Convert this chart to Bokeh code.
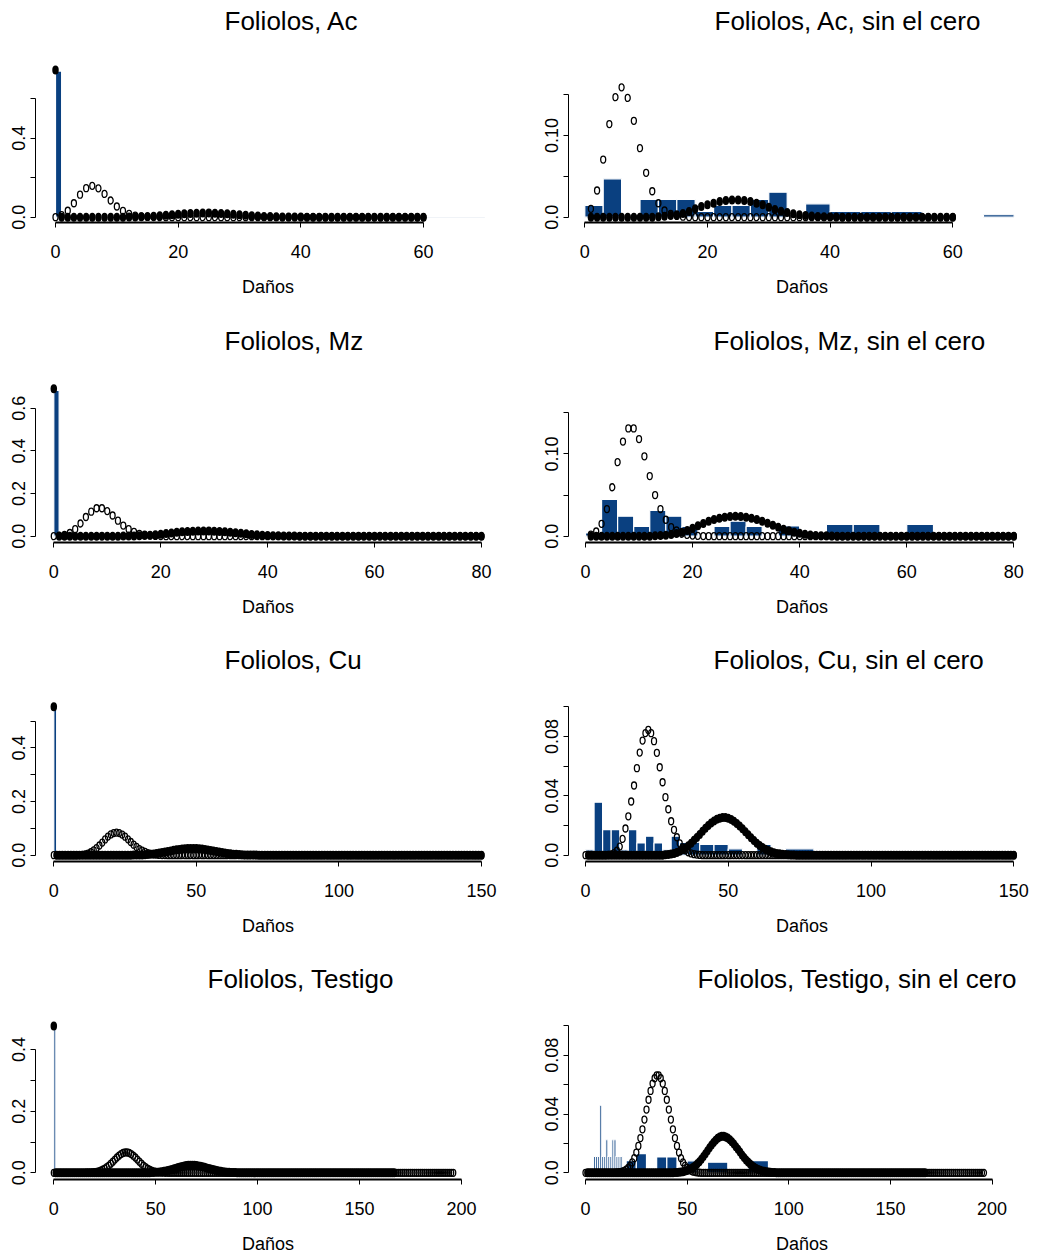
from bokeh.plotting import figure
from bokeh.layouts import gridplot
from bokeh.models import Range1d, FixedTicker
from bokeh.embed import file_html
from bokeh.resources import INLINE

FONT = "Liberation Sans"
BAR = "#0a4080"

# ---------------- data ----------------
# Ac
ac_p0 = 0.745
ac_open = [0.0, 0.0102, 0.0327, 0.0706, 0.114, 0.147, 0.159, 0.146, 0.118, 0.0845,
           0.0543, 0.0318, 0.0171, 0.0082, 0.0040, 0.0016, 0.0006, 0.0002] + [0.0] * 43   # x = 0..60
ac_filled = [0.0] * 11 + [0.0007, 0.0012, 0.002, 0.003, 0.0045, 0.007, 0.0103, 0.013, 0.0151,
                          0.0172, 0.0192, 0.0204, 0.0212, 0.0212, 0.0204, 0.0192, 0.0172, 0.0151,
                          0.0122, 0.0094, 0.0073, 0.0057, 0.0041, 0.003, 0.002, 0.0015, 0.001,
                          0.0006, 0.0004, 0.0002] + [0.0] * 19                                 # x = 1..60
ac_all_left = [0, 60]
ac_all_right = [1, 70]
ac_all_height = [0.74, 0.0008]
ac_nz_left = [0, 3, 9, 12, 15, 18, 21, 24, 27, 30, 36, 40, 45, 50, 65]
ac_nz_right = [3, 6, 12, 15, 18, 21, 24, 27, 30, 33, 40, 45, 50, 55, 70]
ac_nz_height = [0.0143, 0.047, 0.0217, 0.0217, 0.0217, 0.007, 0.0143, 0.0143, 0.0217, 0.0306,
                0.0164, 0.007, 0.007, 0.007, 0.003]

# Mz
mz_p0 = 0.691
mz_open = [0.0, 0.002, 0.0057, 0.015, 0.033, 0.0595, 0.090, 0.115, 0.131, 0.131, 0.118, 0.097,
           0.073, 0.050, 0.033, 0.020, 0.011, 0.0069, 0.003, 0.0015, 0.0007, 0.0003,
           0.0001] + [0.0] * 58                                                                 # x = 0..80
mz_filled = [0.0] * 12 + [0.0004, 0.0008, 0.0013, 0.0021, 0.0033, 0.0049, 0.0069, 0.0097, 0.0126,
                          0.0154, 0.0182, 0.0203, 0.0219, 0.0231, 0.0239, 0.0243, 0.0239, 0.0231,
                          0.0219, 0.0203, 0.0182, 0.0158, 0.0134, 0.011, 0.0085, 0.0065, 0.0049,
                          0.0035, 0.0024, 0.0016, 0.001, 0.0006, 0.0004, 0.0002] + [0.0] * 34  # x = 1..80
mz_all_left = [0]
mz_all_right = [1]
mz_all_height = [0.683]
mz_nz_left = [0, 3, 6, 9, 12, 15, 18, 24, 27, 30, 36, 45, 50, 60]
mz_nz_right = [3, 6, 9, 12, 15, 18, 21, 27, 30, 33, 40, 50, 55, 65]
mz_nz_height = [0.004, 0.0446, 0.0243, 0.0118, 0.0312, 0.0243, 0.0118, 0.0118, 0.0182, 0.0118,
                0.0125, 0.0142, 0.0142, 0.0142]

# Cu
cu_p0 = 0.553
cu_open = [0.0] * 8 + [0.0002, 0.0006, 0.0014, 0.003, 0.0058, 0.011, 0.018, 0.0262, 0.0362, 0.047,
                       0.0587, 0.0692, 0.0773, 0.0823, 0.0845, 0.0823, 0.0769, 0.069, 0.0593,
                       0.0492, 0.0391, 0.031, 0.0229, 0.0171, 0.0121, 0.0080, 0.0052, 0.0033,
                       0.002, 0.0012, 0.0007, 0.0004, 0.0002] + [0.0] * 110                    # x = 0..150
cu_filled = [0.0] * 27 + [0.0003, 0.0005, 0.0008, 0.0012, 0.0018, 0.0026, 0.0036, 0.0049, 0.0064,
                          0.0081, 0.0100, 0.0120, 0.0140, 0.0161, 0.0181, 0.0200, 0.0217, 0.0231,
                          0.0242, 0.0250, 0.0254, 0.0254, 0.0249, 0.0241, 0.0229, 0.0214, 0.0197,
                          0.0178, 0.0158, 0.0138, 0.0118, 0.0099, 0.0081, 0.0066, 0.0052, 0.0040,
                          0.0031, 0.0023, 0.0017, 0.0012, 0.0009, 0.0006, 0.0004, 0.0003, 0.0002,
                          0.0001] + [0.0] * 77                                                   # x = 1..150
cu_all_left = [0]
cu_all_right = [1]
cu_all_height = [0.551]
cu_nz_left = [0, 3, 6, 9, 12, 15, 18, 21, 24, 27, 30, 33, 36, 40, 45, 50, 60, 70]
cu_nz_right = [3, 6, 9, 12, 15, 18, 21, 24, 27, 30, 33, 36, 40, 45, 50, 55, 65, 80]
cu_nz_height = [0.0036, 0.0357, 0.0173, 0.0173, 0.0036, 0.0173, 0.0083, 0.0128, 0.0083, 0.0036,
                0.0128, 0.0087, 0.0088, 0.0072, 0.0072, 0.0043, 0.0072, 0.0043]

# Testigo
te_p0 = 0.476
te_open = [0.0] * 15 + [0.0001, 0.0003, 0.0005, 0.0008, 0.0014, 0.0022, 0.0033, 0.0049, 0.0071,
                        0.0100, 0.0138, 0.0183, 0.0236, 0.0296, 0.0362, 0.0430, 0.0497, 0.0557,
                        0.0607, 0.0643, 0.0662, 0.0662, 0.0643, 0.0607, 0.0557, 0.0497, 0.0430,
                        0.0362, 0.0296, 0.0236, 0.0183, 0.0138, 0.0100, 0.0071, 0.0049, 0.0033,
                        0.0022, 0.0014, 0.0008, 0.0005, 0.0003, 0.0001] + [0.0] * 140          # x = 0..196
te_filled = [0.0] * 42 + [0.0001, 0.0002, 0.0003, 0.0004, 0.0006, 0.0008, 0.0012, 0.0016, 0.0022,
                          0.0029, 0.0038, 0.0049, 0.0062, 0.0076, 0.0093, 0.0111, 0.0130, 0.0150,
                          0.0170, 0.0190, 0.0207, 0.0222, 0.0235, 0.0243, 0.0248, 0.0248, 0.0244,
                          0.0236, 0.0225, 0.0212, 0.0196, 0.0178, 0.0160, 0.0141, 0.0122, 0.0105,
                          0.0088, 0.0073, 0.0060, 0.0048, 0.0038, 0.0030, 0.0023, 0.0017, 0.0013,
                          0.0010, 0.0007, 0.0005, 0.0004, 0.0003, 0.0002, 0.0001] + [0.0] * 73  # x = 1..167
te_all_left = [0]
te_all_right = [1]
te_all_height = [0.475]
te_nz_left = [4, 5, 6, 7, 8, 9, 10, 11, 12, 13, 14, 15, 16, 17, 20, 25, 35, 40, 50, 60, 80]
te_nz_right = [5, 6, 7, 8, 9, 10, 11, 12, 13, 14, 15, 16, 17, 18, 25, 30, 40, 45, 55, 70, 90]
te_nz_height = [0.0112, 0.0112, 0.0112, 0.046, 0.0112, 0.0112, 0.0225, 0.0112, 0.0112, 0.0225,
                0.0225, 0.0112, 0.0112, 0.0112, 0.0083, 0.013, 0.0108, 0.0108, 0.0082, 0.0072,
                0.0083]

# ---------------- layout ----------------
ROW_H = [320, 319, 319, 298]
FRAME_TOP = 40
FRAME_BOTTOM = 222


def panel(title, title_left, row, col, x0, sx, y0, sy, xticks, ymaj, ymaj_lab, ymin, ytop,
          bl, br, bh, ox, oy, fx, fy):
    h = ROW_H[row]
    fl, fr = (35, 500) if col == 0 else (48, 515)
    p = figure(width=520, height=h, output_backend="svg", toolbar_location=None,
               title=title,
               x_range=Range1d((fl - x0) / sx, (fr - x0) / sx),
               y_range=Range1d((y0 - FRAME_BOTTOM) / sy, (y0 - FRAME_TOP) / sy),
               min_border_left=fl, min_border_right=520 - fr,
               min_border_top=FRAME_TOP, min_border_bottom=h - FRAME_BOTTOM)
    p.title.align = "left"
    p.title.offset = title_left - fl
    p.title.text_font = FONT
    p.title.text_font_size = "26px"
    p.title.text_font_style = "normal"
    p.title.text_color = "black"
    p.title.vertical_align = "middle"
    p.title.standoff = 8
    p.outline_line_color = None
    p.xgrid.visible = False
    p.ygrid.visible = False
    p.background_fill_color = "white"
    p.border_fill_color = "white"

    p.quad(left=bl, right=br, top=bh, bottom=0, fill_color=BAR, line_color="white", line_width=1.2)
    p.ellipse(x=ox, y=oy, width=5, height=7, width_units="screen", height_units="screen",
              fill_color=None, line_color="black", line_width=1.3)
    p.ellipse(x=fx, y=fy, width=6.5, height=9, width_units="screen", height_units="screen",
              fill_color="black", line_color=None)

    xa = p.xaxis[0]
    xa.ticker = FixedTicker(ticks=xticks)
    xa.bounds = (xticks[0], xticks[-1])
    xa.axis_line_width = 2
    xa.major_tick_out = 5
    xa.major_tick_in = 0
    xa.minor_tick_line_color = None
    xa.major_label_text_font = FONT
    xa.major_label_text_font_size = "18px"
    xa.major_label_text_color = "black"
    xa.major_label_standoff = 17
    xa.axis_label = "Daños"
    xa.axis_label_text_font = FONT
    xa.axis_label_text_font_size = "18px"
    xa.axis_label_text_font_style = "normal"
    xa.axis_label_text_color = "black"
    xa.axis_label_standoff = 16

    ya = p.yaxis[0]
    ya.ticker = FixedTicker(ticks=ymaj, minor_ticks=ymin)
    ya.bounds = (0, ytop)
    ya.major_label_overrides = {t: s for t, s in zip(ymaj, ymaj_lab)}
    ya.axis_line_width = 1
    ya.major_tick_out = 5
    ya.major_tick_in = 0
    ya.minor_tick_out = 5
    ya.minor_tick_in = 0
    ya.minor_tick_line_color = "black"
    ya.major_label_orientation = "vertical"
    ya.major_label_text_font = FONT
    ya.major_label_text_font_size = "18px"
    ya.major_label_text_color = "black"
    ya.major_label_standoff = 5
    return p


xs_ac_left = list(range(0, 61))
xs_ac_right = list(range(1, 61))
xs_mz_left = list(range(0, 81))
xs_mz_right = list(range(1, 81))
xs_cu_open = list(range(0, 151))
xs_cu_left = list(range(0, 151))
xs_cu_right = list(range(1, 151))
xs_te_open = list(range(0, 197))
xs_te_left = list(range(0, 168))
xs_te_right = list(range(1, 168))

p1 = panel("Foliolos, Ac", 224, 0, 0, 55, 6.133, 216.7, 197.5, [0, 20, 40, 60],
           [0, 0.4], ["0.0", "0.4"], [0.2, 0.6], 0.6,
           ac_all_left, ac_all_right, ac_all_height,
           xs_ac_left, ac_open, xs_ac_left, [ac_p0] + ac_filled)
p2 = panel("Foliolos, Ac, sin el cero", 194, 0, 1, 64.3, 6.133, 216.7, 816.7, [0, 20, 40, 60],
           [0, 0.1], ["0.0", "0.10"], [0.05, 0.15], 0.15,
           ac_nz_left, ac_nz_right, ac_nz_height,
           xs_ac_right, ac_open[1:], xs_ac_right, ac_filled)
p3 = panel("Foliolos, Mz", 224, 1, 0, 53.3, 5.346, 215.7, 213.3, [0, 20, 40, 60, 80],
           [0, 0.2, 0.4, 0.6], ["0.0", "0.2", "0.4", "0.6"], [], 0.6,
           mz_all_left, mz_all_right, mz_all_height,
           xs_mz_left, mz_open, xs_mz_left, [mz_p0] + mz_filled)
p4 = panel("Foliolos, Mz, sin el cero", 193, 1, 1, 65, 5.354, 215.7, 823, [0, 20, 40, 60, 80],
           [0, 0.1], ["0.0", "0.10"], [0.05, 0.15], 0.15,
           mz_nz_left, mz_nz_right, mz_nz_height,
           xs_mz_right, mz_open[1:], xs_mz_right, mz_filled)
p5 = panel("Foliolos, Cu", 224, 2, 0, 53.3, 2.851, 215.7, 268.3, [0, 50, 100, 150],
           [0, 0.2, 0.4], ["0.0", "0.2", "0.4"], [0.1, 0.3, 0.5], 0.5,
           cu_all_left, cu_all_right, cu_all_height,
           xs_cu_open, cu_open, xs_cu_left, [cu_p0] + cu_filled)
p6 = panel("Foliolos, Cu, sin el cero", 193, 2, 1, 65, 2.855, 215.7, 1483, [0, 50, 100, 150],
           [0, 0.04, 0.08], ["0.0", "0.04", "0.08"], [0.02, 0.06, 0.1], 0.1,
           cu_nz_left, cu_nz_right, cu_nz_height,
           xs_cu_open, cu_open, xs_cu_right, cu_filled)
p7 = panel("Foliolos, Testigo", 207, 3, 0, 53.3, 2.038, 215.3, 310, [0, 50, 100, 150, 200],
           [0, 0.2, 0.4], ["0.0", "0.2", "0.4"], [0.1, 0.3], 0.4,
           te_all_left, te_all_right, te_all_height,
           xs_te_open, te_open, xs_te_left, [te_p0] + te_filled)
p8 = panel("Foliolos, Testigo, sin el cero", 177, 3, 1, 65, 2.033, 215.3, 1479,
           [0, 50, 100, 150, 200],
           [0, 0.04, 0.08], ["0.0", "0.04", "0.08"], [0.02, 0.06, 0.1], 0.1,
           te_nz_left, te_nz_right, te_nz_height,
           xs_te_open, te_open, xs_te_right, te_filled)

grid = gridplot([[p1, p2], [p3, p4], [p5, p6], [p7, p8]], toolbar_location=None)

open("out.html", "w").write(file_html(grid, INLINE))
